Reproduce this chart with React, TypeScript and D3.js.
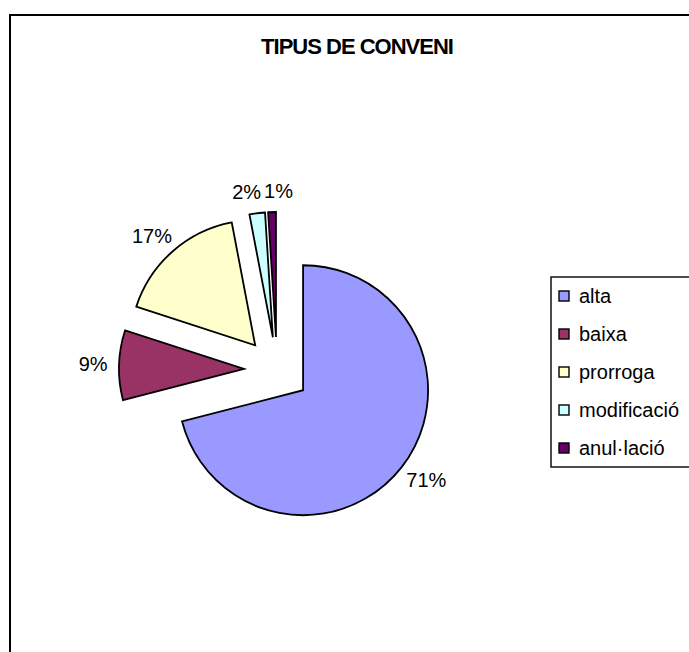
import React from "react";
import * as d3 from "d3";

const categories = ["alta", "baixa", "prorroga", "modificació", "anul·lació"];
const values = [71, 9, 17, 2, 1];
const colors = ["#9999FF", "#993366", "#FFFFCC", "#CCFFFF", "#660066"];
const title = "TIPUS DE CONVENI";

const W = 689;
const H = 652;
const cx = 277;
const cy = 370;
const radius = 125;
const explode = 33;
const labelFont = 20;

// rough Arial text width, good enough for placing the percent labels
const textWidth = (s: string, size: number) =>
  s.split("").reduce((acc, ch) => acc + (ch === "%" ? 0.889 : 0.556), 0) * size;

const App = () => {
  const total = d3.sum(values);
  const pie = d3
    .pie<number>()
    .value((d) => d)
    .sort(null);
  const arcs = pie(values);
  const arc = d3.arc<d3.PieArcDatum<number>>().innerRadius(0).outerRadius(radius);

  const slices = arcs.map((a, i) => {
    const mid = (a.startAngle + a.endAngle) / 2;
    const dx = Math.sin(mid);
    const dy = -Math.cos(mid);
    const ox = cx + explode * dx;
    const oy = cy + explode * dy;
    const text = Math.round((values[i] / total) * 100) + "%";
    const w = textWidth(text, labelFont);
    const h = labelFont * 0.8;
    const ax = ox + (radius + 13) * dx + dx * (w / 2) * 0.9;
    const ay = oy + (radius + 13) * dy + dy * (h / 2);
    return { a, i, ox, oy, text, w, h, x: ax, y: ay };
  });

  // push overlapping labels apart sideways
  for (let iter = 0; iter < 20; iter++) {
    for (let p = 0; p < slices.length; p++) {
      for (let q = p + 1; q < slices.length; q++) {
        const s1 = slices[p];
        const s2 = slices[q];
        const needX = (s1.w + s2.w) / 2 + 3;
        const gapX = Math.abs(s1.x - s2.x);
        if (gapX < needX && Math.abs(s1.y - s2.y) < (s1.h + s2.h) / 2) {
          const shift = (needX - gapX) / 2;
          const sign = s1.x <= s2.x ? -1 : 1;
          s1.x += sign * shift;
          s2.x -= sign * shift;
        }
      }
    }
  }

  const legendX = 551;
  const legendY = 277;
  const rowH = 38;

  return (
    <div style={{ position: "absolute", left: 0, top: 0 }}>
      <svg width={W} height={H} style={{ display: "block", fontFamily: "'Liberation Sans', Arial, sans-serif" }}>
        <rect x={0} y={0} width={W} height={H} fill="#fff" />
        <rect x={10} y={15} width={W + 20} height={H + 20} fill="#fff" stroke="#000" strokeWidth={2} />
        <text
          x={357}
          y={46}
          textAnchor="middle"
          dy="0.35em"
          fontWeight="bold"
          fontSize={22}
          letterSpacing={-1}
        >
          {title}
        </text>

        {slices.map((s) => (
          <path
            key={categories[s.i]}
            d={arc(s.a) || ""}
            transform={`translate(${s.ox},${s.oy})`}
            fill={colors[s.i]}
            stroke="#000"
            strokeWidth={1.8}
            strokeLinejoin="miter"
          />
        ))}

        {slices.map((s) => (
          <text key={"l" + s.i} x={s.x} y={s.y} dy="0.35em" textAnchor="middle" fontSize={labelFont} fill="#000">
            {s.text}
          </text>
        ))}

        <rect
          x={legendX}
          y={legendY}
          width={W}
          height={rowH * categories.length}
          fill="#fff"
          stroke="#000"
          strokeWidth={1.4}
        />
        {categories.map((c, i) => {
          const yc = legendY + rowH / 2 + i * rowH;
          return (
            <g key={c}>
              <rect x={legendX + 8} y={yc - 5} width={10} height={10} fill={colors[i]} stroke="#000" strokeWidth={1.4} />
              <text x={legendX + 28} y={yc} dy="0.35em" fontSize={20} fill="#000">
                {c}
              </text>
            </g>
          );
        })}
      </svg>
    </div>
  );
};

export default App;
